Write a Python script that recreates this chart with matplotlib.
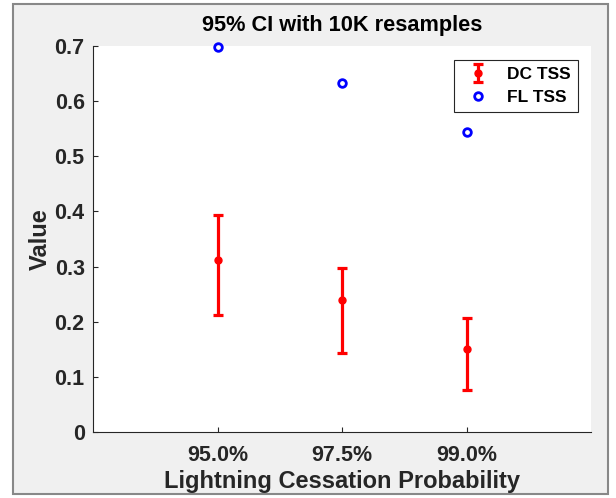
import matplotlib.pyplot as plt
from matplotlib.patches import Rectangle

# dados
rotulos = ["95.0%", "97.5%", "99.0%"]
dc_media = [0.312, 0.239, 0.150]
dc_baixo = [0.213, 0.143, 0.077]
dc_alto = [0.393, 0.297, 0.207]
fl_tss = [0.698, 0.633, 0.544]

plt.rcParams['font.family'] = ['Liberation Sans', 'DejaVu Sans']
plt.rcParams['font.weight'] = 'bold'

fig = plt.figure(figsize=(6.16, 4.98), dpi=100)
fig.patch.set_facecolor('white')
# moldura cinza da janela
fig.patches.append(Rectangle((13/616, 4/498), 595/616, 490/498, transform=fig.transFigure,
                             facecolor='#f0f0f0', edgecolor='#888888', lw=1.5, zorder=-10))

ax = fig.add_axes([93/616, 1 - 432/498, 498/616, 386/498])
x = range(1, len(rotulos) + 1)
erro = [[m - b for m, b in zip(dc_media, dc_baixo)], [a - m for m, a in zip(dc_media, dc_alto)]]
dc = ax.errorbar(x, dc_media, yerr=erro, fmt='o', color='red', ecolor='red', ms=5,
                 elinewidth=2.3, capsize=3.6, capthick=2.3, label='DC TSS')
fl, = ax.plot(x, fl_tss, 'o', mfc='none', mec='blue', mew=2, ms=5.5, label='FL TSS', clip_on=False)

ax.set_xlim(0, 4)
ax.set_ylim(0, 0.7)
ax.set_xticks(list(x))
ax.set_xticklabels(rotulos)
ax.set_yticks([0, 0.1, 0.2, 0.3, 0.4, 0.5, 0.6, 0.7])
ax.set_yticklabels(["0", "0.1", "0.2", "0.3", "0.4", "0.5", "0.6", "0.7"])
ax.tick_params(direction='in', length=3.6, labelsize=15.5, width=0.8, color='#262626',
               labelcolor='#262626')
ax.tick_params(axis='y', pad=6)
ax.tick_params(axis='x', pad=9)
for s in ['top', 'right']:
    ax.spines[s].set_visible(False)
for s in ['left', 'bottom']:
    ax.spines[s].set_color('#262626')
ax.set_xlabel("Lightning Cessation Probability", fontsize=17, weight='bold', color='#262626', labelpad=3)
ax.set_ylabel("Value", fontsize=17, weight='bold', color='#262626', labelpad=2)
ax.set_title("95% CI with 10K resamples", fontsize=15.7, weight='bold', pad=11)
leg = ax.legend([dc, fl], ['DC TSS', 'FL TSS'], loc='upper right', bbox_to_anchor=(0.974, 0.964),
                borderaxespad=0, fontsize=12.5, fancybox=False, edgecolor='#262626', framealpha=1,
                handlelength=2.0, handletextpad=0.7, borderpad=0.4, labelspacing=0.45)
leg.get_frame().set_linewidth(0.8)

plt.savefig("out.png", dpi=100)
plt.close()
